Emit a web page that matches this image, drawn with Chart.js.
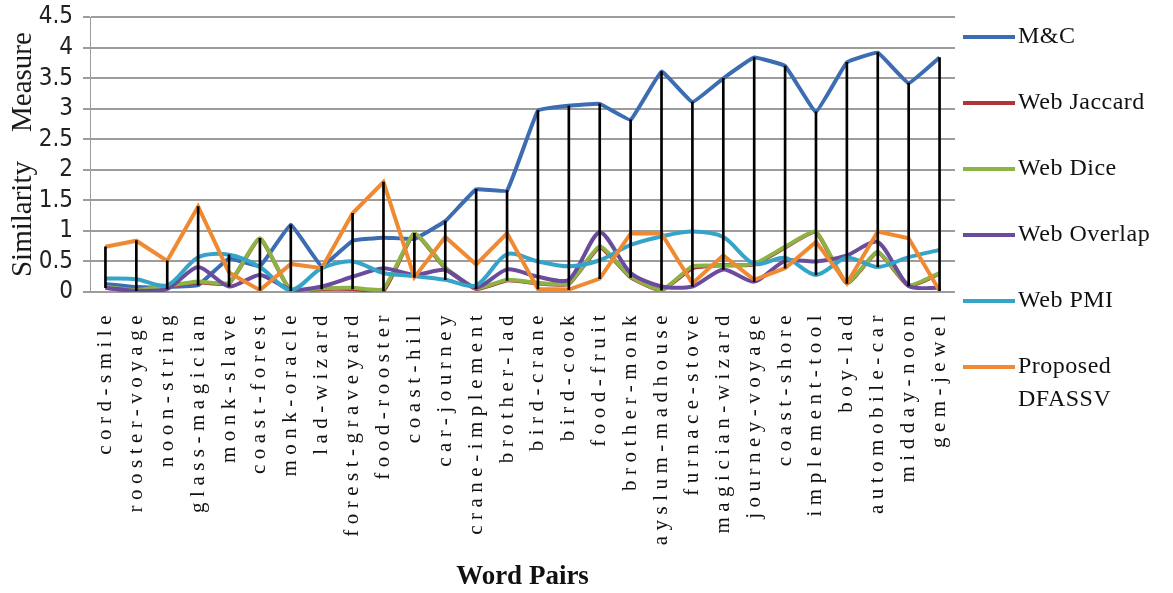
<!DOCTYPE html>
<html>
<head>
<meta charset="utf-8">
<script src="https://cdn.jsdelivr.net/npm/chart.js@4.4.1/dist/chart.umd.min.js"></script>
<style>
    body { margin: 0; background: #fff; }
    #wrap { width: 1173px; height: 593px; position: relative; }
</style>
</head>
<body>
<div id="wrap"><canvas id="chart1"></canvas></div>
<script>
// word pairs (x axis)
var arrPares = ['cord-smile', 'rooster-voyage', 'noon-string', 'glass-magician', 'monk-slave',
    'coast-forest', 'monk-oracle', 'lad-wizard', 'forest-graveyard', 'food-rooster', 'coast-hill',
    'car-journey', 'crane-implement', 'brother-lad', 'bird-crane', 'bird-cook', 'food-fruit',
    'brother-monk', 'ayslum-madhouse', 'furnace-stove', 'magician-wizard', 'journey-voyage',
    'coast-shore', 'implement-tool', 'boy-lad', 'automobile-car', 'midday-noon', 'gem-jewel'];

// series values
var arrMC = [0.13, 0.08, 0.08, 0.11, 0.55, 0.42, 1.10, 0.42, 0.84, 0.89, 0.87, 1.16, 1.68, 1.66,
    2.97, 3.05, 3.08, 2.82, 3.61, 3.11, 3.50, 3.84, 3.70, 2.95, 3.76, 3.92, 3.42, 3.84];
var arrJaccard = [0.07, 0.02, 0.09, 0.16, 0.14, 0.87, 0.02, 0.05, 0.05, 0.02, 0.95, 0.39, 0.05, 0.19,
    0.14, 0.13, 0.73, 0.24, 0.03, 0.39, 0.44, 0.45, 0.73, 0.98, 0.14, 0.65, 0.10, 0.30];
var arrDice = [0.08, 0.03, 0.10, 0.17, 0.15, 0.88, 0.02, 0.06, 0.07, 0.05, 0.96, 0.40, 0.06, 0.20,
    0.15, 0.14, 0.75, 0.25, 0.03, 0.42, 0.43, 0.46, 0.74, 0.99, 0.15, 0.66, 0.11, 0.31];
var arrOverlap = [0.07, 0.02, 0.05, 0.41, 0.09, 0.28, 0.04, 0.09, 0.25, 0.39, 0.28, 0.36, 0.07, 0.37,
    0.25, 0.20, 0.98, 0.31, 0.09, 0.09, 0.37, 0.17, 0.51, 0.50, 0.60, 0.82, 0.10, 0.07];
var arrPMI = [0.22, 0.21, 0.11, 0.57, 0.61, 0.41, 0.03, 0.39, 0.50, 0.31, 0.26, 0.20, 0.11, 0.62,
    0.50, 0.42, 0.52, 0.77, 0.91, 0.99, 0.90, 0.46, 0.56, 0.28, 0.56, 0.41, 0.57, 0.69];
var arrProposed = [0.74, 0.84, 0.51, 1.40, 0.32, 0.03, 0.46, 0.39, 1.29, 1.80, 0.24, 0.90, 0.45, 0.96,
    0.05, 0.04, 0.22, 0.96, 0.96, 0.14, 0.60, 0.20, 0.39, 0.82, 0.14, 0.99, 0.88, 0.02];

var serif = '"Liberation Serif", "Times New Roman", serif';
var narrow = '"Liberation Sans Narrow", "DejaVu Sans Condensed", "Liberation Sans", sans-serif';

var series = [
    { label: 'M&C', data: arrMC, color: '#3c6db3', tension: 0.08 },
    { label: 'Web Jaccard', data: arrJaccard, color: '#b0343a', tension: 0.15 },
    { label: 'Web Dice', data: arrDice, color: '#8cb344', tension: 0.15 },
    { label: 'Web Overlap', data: arrOverlap, color: '#6b4c9c', tension: 0.25 },
    { label: 'Web PMI', data: arrPMI, color: '#35a4c8', tension: 0.3 },
    { label: 'Proposed DFASSV', data: arrProposed, color: '#ef8a33', tension: 0 }
];

// high-low lines: from lowest to highest value at each pair
var arrHiLo = [];
for (var i = 0; i < arrPares.length; i++) {
    var vals = series.map(function (s) { return s.data[i]; });
    arrHiLo.push([Math.min.apply(null, vals), Math.max.apply(null, vals)]);
}

var datasets = series.map(function (s, k) {
    return {
        type: 'line',
        label: s.label,
        data: s.data,
        borderColor: s.color,
        backgroundColor: s.color,
        borderWidth: 4,
        pointRadius: 0,
        tension: s.tension,
        order: series.length - k
    };
});
datasets.push({
    type: 'bar',
    label: 'hilo',
    data: arrHiLo,
    backgroundColor: '#000',
    barThickness: 2,
    order: 0
});

// legend drawn at the right, lines + serif text, long names wrapped
const sideLegend = {
    id: 'sideLegend',
    beforeDraw(chart) {
        var xs = chart.scales.x;
        if (!xs._spaced) {
            var orig = xs.drawLabels;
            xs.drawLabels = function (area) {
                this.ctx.save();
                this.ctx.letterSpacing = '5.5px';
                orig.call(this, area);
                this.ctx.restore();
            };
            xs._spaced = true;
        }
    },
    afterDraw(chart) {
        const ctx = chart.ctx;
        ctx.save();
        ctx.font = '24px ' + serif;
        ctx.letterSpacing = '0.5px';
        ctx.textBaseline = 'middle';
        ctx.fillStyle = '#111';
        var x0 = 963, x1 = 1015, y = 37;
        for (var k = 0; k < series.length; k++) {
            ctx.strokeStyle = series[k].color;
            ctx.lineWidth = 4;
            ctx.beginPath();
            ctx.moveTo(x0, y);
            ctx.lineTo(x1, y);
            ctx.stroke();
            var words = series[k].label.split(' ');
            var line = '', ly = y;
            for (var w = 0; w < words.length; w++) {
                var test = line ? line + ' ' + words[w] : words[w];
                if (line && ctx.measureText(test).width > 1170 - (x1 + 3)) {
                    ctx.fillText(line, x1 + 3, ly);
                    line = words[w];
                    ly += 33;
                } else {
                    line = test;
                }
            }
            ctx.fillText(line, x1 + 3, ly);
            y += 66;
        }
        ctx.restore();
    }
};

const config = {
    type: 'line',
    data: { labels: arrPares, datasets: datasets },
    options: {
        responsive: true,
        maintainAspectRatio: false,
        animation: false,
        events: [],
        layout: { padding: { top: 17, right: 218, left: 0, bottom: 0 } },
        plugins: {
            legend: { display: false },
            tooltip: { enabled: false }
        },
        scales: {
            x: {
                offset: true,
                grid: { display: false },
                border: { display: false },
                ticks: {
                    autoSkip: false,
                    maxRotation: 90,
                    minRotation: 90,
                    padding: 10,
                    color: '#111',
                    font: { family: serif, size: 21 }
                },
                title: {
                    display: true,
                    text: 'Word Pairs',
                    color: '#111',
                    padding: 0,
                    font: { family: serif, size: 27, weight: 'bold' }
                },
                afterFit: function (s) { s.height = 301; }
            },
            y: {
                min: 0,
                max: 4.5,
                ticks: {
                    stepSize: 0.5,
                    autoSkip: false,
                    padding: 10,
                    color: '#222',
                    font: { family: narrow, size: 24, lineHeight: 0.6 },
                    callback: function (v) { return String(v); }
                },
                grid: { color: '#9c9c9c', lineWidth: 2, tickLength: 7 },
                border: { display: true, color: '#9c9c9c', width: 1 },
                title: {
                    display: true,
                    text: 'Similarity    Measure',
                    color: '#1a1a1a',
                    padding: { top: 6, bottom: 0 },
                    font: { family: serif, size: 29 }
                },
                afterFit: function (s) { s.width = 90; }
            }
        }
    },
    plugins: [sideLegend]
};

const myChart = new Chart(document.getElementById('chart1'), config);
</script>
</body>
</html>
